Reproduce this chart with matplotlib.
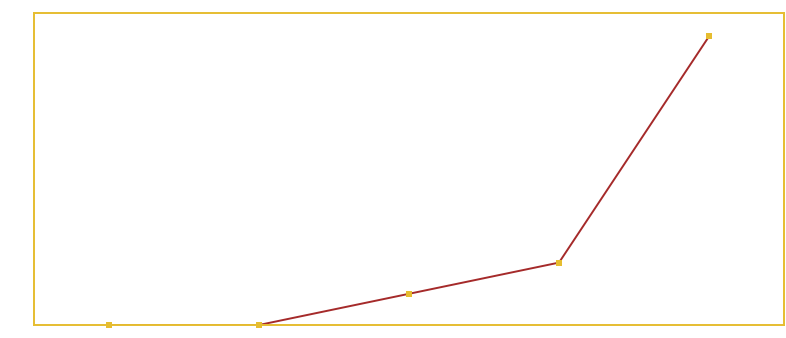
import matplotlib
matplotlib.use("Agg")
import matplotlib.pyplot as plt

categories = ["A", "B", "C", "D", "E"]
values = [0, 0, 1, 2, 9.25]

fig = plt.figure(figsize=(7.86, 3.38), dpi=100)
ax = fig.add_axes([34/786, 13/338, 750/786, 312/338])
x = list(range(len(categories)))
ax.plot(x, values, color="#a52a2a", linewidth=1.4, zorder=2)
ax.plot(x, values, linestyle="none", marker="s", markersize=4.6,
        color="#e6bd30", markeredgewidth=0, zorder=4, clip_on=False)
ax.set_xlim(-0.5, len(categories) - 0.5)
ax.set_ylim(0, 10)
for s in ax.spines.values():
    s.set_color("#e6bd30")
    s.set_linewidth(1.4)
ax.set_xticks([])
ax.set_yticks([])
fig.savefig("out.png", dpi=100)
